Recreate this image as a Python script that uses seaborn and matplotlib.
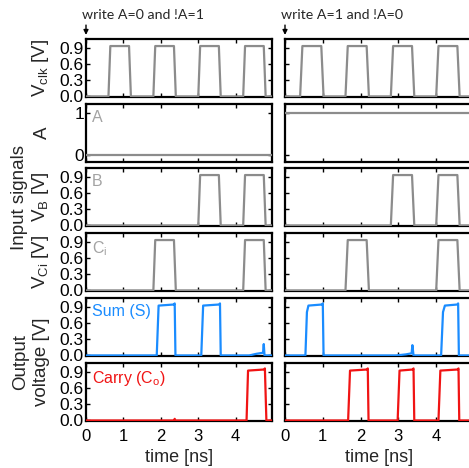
import matplotlib
matplotlib.use("Agg")
import matplotlib.pyplot as plt
import seaborn as sns
import pandas as pd

# ---- waveforms (time in ns, voltage in V) ----
# left case: write A=0 and !A=1
clk_l_t = [0, 0.60, 0.65, 1.15, 1.20, 1.80, 1.85, 2.35, 2.40, 3.00, 3.05, 3.55, 3.60, 4.20, 4.25, 4.75, 4.80, 5.0]
clk_l_v = [0, 0, 0.93, 0.93, 0, 0, 0.93, 0.93, 0, 0, 0.93, 0.93, 0, 0, 0.93, 0.93, 0, 0]
a_l_t = [0, 5.0]
a_l_v = [0, 0]
b_l_t = [0, 3.00, 3.05, 3.55, 3.60, 4.20, 4.25, 4.75, 4.80, 5.0]
b_l_v = [0, 0, 0.93, 0.93, 0, 0, 0.93, 0.93, 0, 0]
ci_l_t = [0, 1.80, 1.85, 2.35, 2.40, 4.20, 4.25, 4.75, 4.80, 5.0]
ci_l_v = [0, 0, 0.93, 0.93, 0, 0, 0.93, 0.93, 0, 0]
sum_l_t = [0, 1.89, 1.94, 2.35, 2.37, 2.39, 3.08, 3.13, 3.56, 3.58, 3.60, 4.36, 4.55, 4.73, 4.75, 4.77, 5.0]
sum_l_v = [0, 0, 0.92, 0.94, 0.96, 0, 0, 0.92, 0.94, 0.96, 0, 0, 0.03, 0.05, 0.21, 0, 0]
carry_l_t = [0, 2.35, 2.37, 2.39, 4.29, 4.33, 4.76, 4.78, 4.82, 5.0]
carry_l_v = [0, 0, 0.03, 0, 0, 0.92, 0.94, 0.96, 0, 0]

# right case: write A=1 and !A=0
clk_r_t = [0, 0.40, 0.46, 0.96, 1.02, 1.60, 1.66, 2.16, 2.22, 2.80, 2.86, 3.36, 3.42, 4.00, 4.06, 4.56, 4.62, 5.0]
clk_r_v = [0, 0, 0.93, 0.93, 0, 0, 0.93, 0.93, 0, 0, 0.93, 0.93, 0, 0, 0.93, 0.93, 0, 0]
a_r_t = [0, 5.0]
a_r_v = [1, 1]
b_r_t = [0, 2.80, 2.86, 3.36, 3.42, 4.00, 4.06, 4.56, 4.62, 5.0]
b_r_v = [0, 0, 0.93, 0.93, 0, 0, 0.93, 0.93, 0, 0]
ci_r_t = [0, 1.60, 1.66, 2.16, 2.22, 4.00, 4.06, 4.56, 4.62, 5.0]
ci_r_v = [0, 0, 0.93, 0.93, 0, 0, 0.93, 0.93, 0, 0]
sum_r_t = [0, 0.54, 0.58, 0.62, 0.98, 1.00, 1.02, 2.94, 3.20, 3.35, 3.37, 3.40, 4.13, 4.18, 4.23, 4.56, 4.58, 4.60, 5.0]
sum_r_v = [0, 0, 0.80, 0.92, 0.94, 0.96, 0, 0, 0.02, 0.04, 0.19, 0, 0, 0.80, 0.92, 0.94, 0.96, 0, 0]
carry_r_t = [0, 1.67, 1.72, 2.17, 2.19, 2.21, 2.98, 3.03, 3.38, 3.40, 3.42, 4.06, 4.11, 4.57, 4.59, 4.61, 5.0]
carry_r_v = [0, 0, 0.92, 0.94, 0.96, 0, 0, 0.92, 0.94, 0.96, 0, 0, 0.92, 0.94, 0.96, 0, 0]

row_labels = [r"V$_{\mathrm{clk}}$ [V]", "A", r"V$_{\mathrm{B}}$ [V]", r"V$_{\mathrm{Ci}}$ [V]", None, None]
inset_labels = ["", "A", "B", r"C$_{\mathrm{i}}$", "Sum (S)", r"Carry (C$_{\mathrm{o}}$)"]
volt_ticks = [0.0, 0.3, 0.6, 0.9]
volt_ticklabels = ["0.0", "0.3", "0.6", "0.9"]
logic_ticks = [0, 1]
time_ticks = [0, 1, 2, 3, 4]
titles = ["write A=0 and !A=1", "write A=1 and !A=0"]

left_traces = [(clk_l_t, clk_l_v), (a_l_t, a_l_v), (b_l_t, b_l_v),
               (ci_l_t, ci_l_v), (sum_l_t, sum_l_v), (carry_l_t, carry_l_v)]
right_traces = [(clk_r_t, clk_r_v), (a_r_t, a_r_v), (b_r_t, b_r_v),
                (ci_r_t, ci_r_v), (sum_r_t, sum_r_v), (carry_r_t, carry_r_v)]

GRAY = "#8c8c8c"
LABEL_GRAY = "#a3a3a3"
BLUE = "#1a8cff"
RED = "#f01414"
row_colors = [GRAY, GRAY, GRAY, GRAY, BLUE, RED]
label_colors = [LABEL_GRAY] * 4 + [BLUE, RED]

sns.set_theme(style="ticks")
plt.rcParams["font.family"] = ["Liberation Sans", "DejaVu Sans"]
plt.rcParams["mathtext.fontset"] = "custom"
plt.rcParams["mathtext.rm"] = "Liberation Sans"
plt.rcParams["mathtext.it"] = "Liberation Sans:italic"
plt.rcParams["mathtext.bf"] = "Liberation Sans:bold"

W, H = 469, 468
fig = plt.figure(figsize=(W / 100, H / 100), dpi=100)

row_tops = [39, 104, 168, 233, 298, 363]
row_h = 58
col_specs = [(86, 272, 4.97), (285, 474, 5.0)]

for c, (x0, x1, xmax) in enumerate(col_specs):
    traces = left_traces if c == 0 else right_traces
    col_axes = []
    for r in range(6):
        top = row_tops[r]
        ax = fig.add_axes([x0 / W, 1 - (top + row_h) / H, (x1 - x0) / W, row_h / H])
        t, v = traces[r]
        df = pd.DataFrame({"time": t, "value": v})
        sns.lineplot(data=df, x="time", y="value", ax=ax, color=row_colors[r],
                     lw=1.6, estimator=None, sort=False, zorder=3)
        ax.set_xlim(0, xmax)
        if r == 1:
            ax.set_ylim(-0.16, 1.2)
            ax.set_yticks(logic_ticks)
            ax.set_yticklabels(["0", "1"])
        else:
            ax.set_ylim(-0.01, 1.06)
            ax.set_yticks(volt_ticks)
            ax.set_yticklabels(volt_ticklabels)
        ax.set_xticks(time_ticks)
        ax.set_xticklabels([str(x) for x in time_ticks])
        ax.tick_params(direction="in", length=3, width=1, top=True, right=True,
                       labelsize=12.5, pad=1.5, colors="black")
        ax.tick_params(axis="x", labelsize=12, pad=5.5)
        for s in ax.spines.values():
            s.set_linewidth(1.6)
            s.set_color("black")
        ax.set_xlabel("")
        ax.set_ylabel("")
        if r < 5:
            ax.tick_params(labelbottom=False)
        else:
            ax.set_xlabel("time [ns]", fontsize=13, labelpad=4)
        if c == 1:
            ax.tick_params(labelleft=False)
        else:
            if row_labels[r]:
                ax.set_ylabel(row_labels[r], fontsize=13.5)
                ax.yaxis.set_label_coords(-35 / (x1 - x0), 0.5)
            if inset_labels[r]:
                ax.text(6 / (x1 - x0), 1 - 6 / row_h, inset_labels[r], transform=ax.transAxes,
                        ha="left", va="top", fontsize=11.5, color=label_colors[r])
        col_axes.append(ax)

    # title with arrow marking the start of the write operation
    axt = col_axes[0]
    axt.annotate("", xy=(0, 1.07), xycoords=("data", "axes fraction"),
                 xytext=(0, 1.24), textcoords=("data", "axes fraction"),
                 arrowprops=dict(arrowstyle="-|>", color="black", lw=1.0,
                                 mutation_scale=7, shrinkA=0, shrinkB=0),
                 annotation_clip=False)
    axt.text(-4 / (x1 - x0), 1 + (39 - 15) / row_h, titles[c], transform=axt.transAxes,
             ha="left", va="center", fontsize=10.2, family=["Lato", "DejaVu Sans"])

# group labels
fig.text(19 / W, 1 - 198 / H, "Input signals", rotation=90, ha="center", va="center", fontsize=13.5)
fig.text(31 / W, 1 - 362 / H, "Output\nvoltage [V]", rotation=90, ha="center", va="center",
         fontsize=13.5, linespacing=1.35)

fig.savefig("out.png", dpi=100)
